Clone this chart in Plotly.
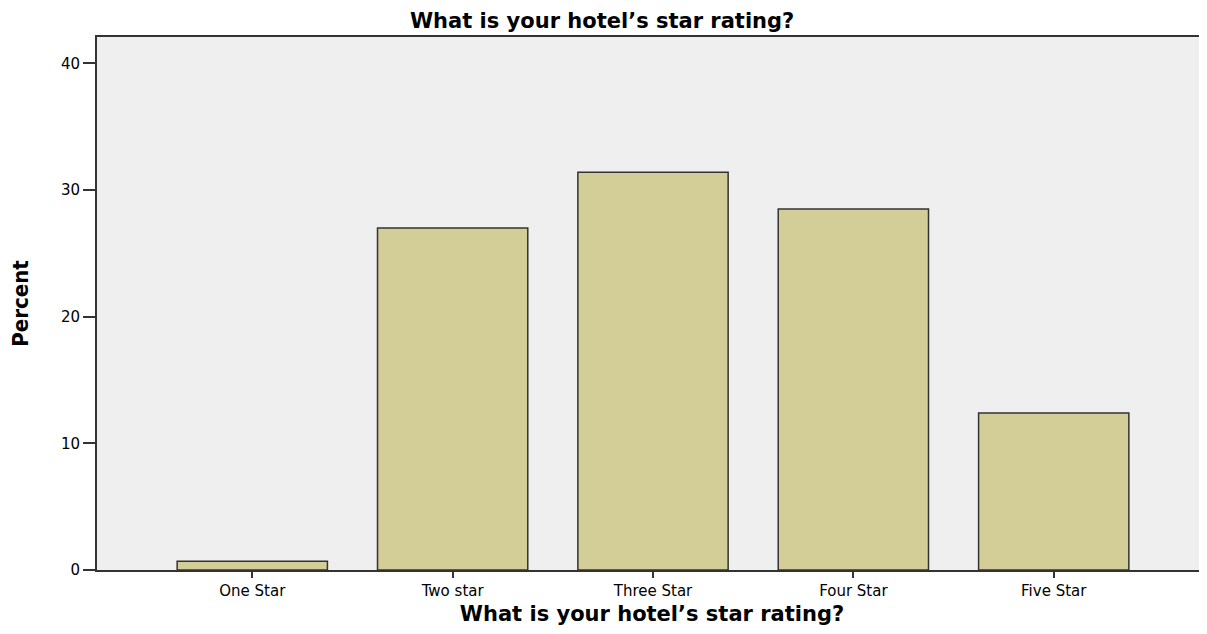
import plotly.graph_objects as go

categories = ["One Star", "Two star", "Three Star", "Four Star", "Five Star"]
percent = [0.7, 27.0, 31.4, 28.5, 12.4]
y_ticks = [0, 10, 20, 30, 40]
title_text = "What is your hotel’s star rating?"

fig = go.Figure(
    go.Bar(
        x=list(range(len(categories))),
        y=percent,
        width=0.75,
        marker=dict(color="#d3ce97", line=dict(color="#333333", width=1.5)),
    )
)

# page has an 8px body margin: size the figure so it exactly fills the window
fig.update_layout(
    width=1199,
    height=618,
    margin=dict(l=89, r=0, t=29, b=56, autoexpand=False),
    paper_bgcolor="white",
    plot_bgcolor="#efefef",
    showlegend=False,
    font=dict(family="DejaVu Sans", color="black", size=15),
    title=dict(
        text=title_text,
        x=0.4955,
        xanchor="center",
        xref="container",
        y=0.979,
        yref="container",
        yanchor="middle",
        font=dict(family="DejaVu Sans", size=21, weight="bold", color="black"),
    ),
)

fig.update_xaxes(
    automargin=False,
    tickmode="array",
    tickvals=list(range(len(categories))),
    ticktext=categories,
    range=[-0.775, 4.765],
    showgrid=False,
    zeroline=False,
    showline=True,
    linecolor="#333333",
    linewidth=2,
    mirror=True,
    ticks="outside",
    ticklen=6,
    tickwidth=1.5,
    tickcolor="#333333",
    tickfont=dict(family="DejaVu Sans", size=15),
    title=dict(
        text=title_text,
        font=dict(family="DejaVu Sans", size=21, weight="bold"),
        standoff=10,
    ),
)

fig.update_yaxes(
    automargin=False,
    tickmode="array",
    tickvals=y_ticks,
    range=[0, 42.08],
    showgrid=False,
    zeroline=False,
    showline=True,
    linecolor="#333333",
    linewidth=2,
    ticks="outside",
    ticklen=12,
    tickwidth=1.5,
    tickcolor="#333333",
    tickfont=dict(family="DejaVu Sans", size=15),
    title=dict(
        text="Percent",
        font=dict(family="DejaVu Sans Condensed, DejaVu Sans", size=22, weight="bold"),
        standoff=31,
    ),
)

fig.write_html("out.html")
